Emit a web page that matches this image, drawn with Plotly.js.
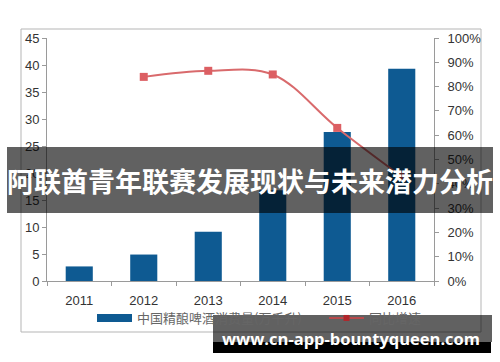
<!DOCTYPE html>
<html>
<head>
<meta charset="utf-8">
<script src="https://cdn.plot.ly/plotly-3.0.1.min.js"></script>
<style>
html,body{margin:0;padding:0;background:#fff;}
#chart{width:500px;height:362px;}
</style>
</head>
<body>
<div id="chart"></div>
<script>
// ---- data ----
const years = ['2011', '2012', '2013', '2014', '2015', '2016'];
const consumption = [2.7, 4.9, 9.1, 16.8, 27.6, 39.3];
const growthYears = ['2012', '2013', '2014', '2015', '2016'];
const growth = [0.84, 0.865, 0.85, 0.63, 0.43];
const barName = '中国精酿啤酒消费量(万千升)';
const lineName = '同比增速';
const bannerTitle = '阿联酋青年联赛发展现状与未来潜力分析';
const siteText = 'www.cn-app-bountyqueen.com';

// ---- layout helpers (pixel -> paper) ----
const W = 500, H = 362;
const L = 47, R = 434, T = 38, B = 281;
const px = x => (x - L) / (R - L);
const py = y => (B - y) / (B - T);

const barColor = '#0e5a92';
const lineColor = '#d96a6c';
const tickFont = {family: 'Liberation Sans, Arial, sans-serif', size: 13, color: '#333'};
const cjk = 'Noto Sans CJK SC, sans-serif';
const legendFont = {family: cjk, size: 13, color: '#666'};

const traces = [
  {type: 'bar', x: years, y: consumption, marker: {color: barColor}, width: 0.42,
   showlegend: false, hoverinfo: 'skip'},
  {type: 'scatter', x: growthYears, y: growth, yaxis: 'y2', mode: 'lines+markers',
   line: {color: lineColor, width: 2, shape: 'spline'},
   marker: {symbol: 'square', size: 8, color: '#dc5f63'},
   showlegend: false, hoverinfo: 'skip'},
  {type: 'scatter', x: [null], y: [null], mode: 'lines', name: barName, legend: 'legend',
   line: {color: barColor, width: 8}},
  {type: 'scatter', x: [null], y: [null], yaxis: 'y2', mode: 'lines+markers', name: lineName,
   legend: 'legend2',
   line: {color: '#b84a4c', width: 2}, marker: {symbol: 'square', size: 6, color: '#b0262b'}}
];

const layout = {
  width: W, height: H,
  margin: {l: L, r: W - R, t: T, b: H - B, pad: 0},
  paper_bgcolor: '#fff', plot_bgcolor: '#fff',
  xaxis: {type: 'category', showline: true, linecolor: '#9a9a9a', linewidth: 1,
    ticks: 'outside', tickson: 'boundaries', ticklen: 4, tickcolor: '#9a9a9a',
    showgrid: false, zeroline: false, tickfont: tickFont, ticklabelstandoff: 7, fixedrange: true},
  yaxis: {range: [0, 45], dtick: 5, showline: true, linecolor: '#9a9a9a', linewidth: 1,
    ticks: 'outside', ticklen: 4, tickcolor: '#9a9a9a', showgrid: false, zeroline: false,
    tickfont: tickFont, fixedrange: true},
  yaxis2: {range: [0, 1], dtick: 0.1, tickformat: '.0%', overlaying: 'y', side: 'right',
    showline: true, linecolor: '#9a9a9a', linewidth: 1, ticks: 'outside', ticklen: 4,
    tickcolor: '#9a9a9a', showgrid: false, zeroline: false, tickfont: tickFont,
    ticklabelstandoff: 6, fixedrange: true},
  legend: {orientation: 'h', x: px(92), xanchor: 'left', y: py(318), yanchor: 'middle',
    font: legendFont, bgcolor: 'rgba(0,0,0,0)', itemwidth: 35},
  legend2: {orientation: 'h', x: px(324), xanchor: 'left', y: py(318), yanchor: 'middle',
    font: legendFont, bgcolor: 'rgba(0,0,0,0)', itemwidth: 35},
  shapes: [
    {type: 'rect', xref: 'paper', yref: 'paper', x0: px(21), x1: px(481), y0: py(332), y1: py(29),
     line: {color: '#b5b5b5', width: 1}, fillcolor: 'rgba(0,0,0,0)', layer: 'below'},
    {type: 'rect', xref: 'paper', yref: 'paper', x0: px(7), x1: px(493), y0: py(213), y1: py(147),
     line: {width: 0}, fillcolor: 'rgba(0,0,0,0.62)', layer: 'above'},
    {type: 'rect', xref: 'paper', yref: 'paper', x0: px(213), x1: px(492), y0: py(342), y1: py(315),
     line: {width: 0}, fillcolor: 'rgba(0,0,0,0.62)', layer: 'above'},
    {type: 'rect', xref: 'paper', yref: 'paper', x0: px(213), x1: px(491), y0: py(353), y1: py(342),
     line: {width: 0}, fillcolor: '#000', layer: 'above'}
  ],
  annotations: [
    {xref: 'paper', yref: 'paper', x: px(250), y: py(180), xanchor: 'center', yanchor: 'middle',
     text: '<b>' + bannerTitle + '</b>', showarrow: false,
     font: {family: cjk, size: 27, color: '#fff'}},
    {xref: 'paper', yref: 'paper', x: px(351), y: py(338), xanchor: 'center', yanchor: 'middle',
     text: '<b>' + siteText + '</b>', showarrow: false,
     font: {family: 'Open Sans, DejaVu Sans, sans-serif', size: 16.5, color: '#fff'}}
  ]
};

Plotly.newPlot('chart', traces, layout, {displayModeBar: false, staticPlot: true});
</script>
</body>
</html>
